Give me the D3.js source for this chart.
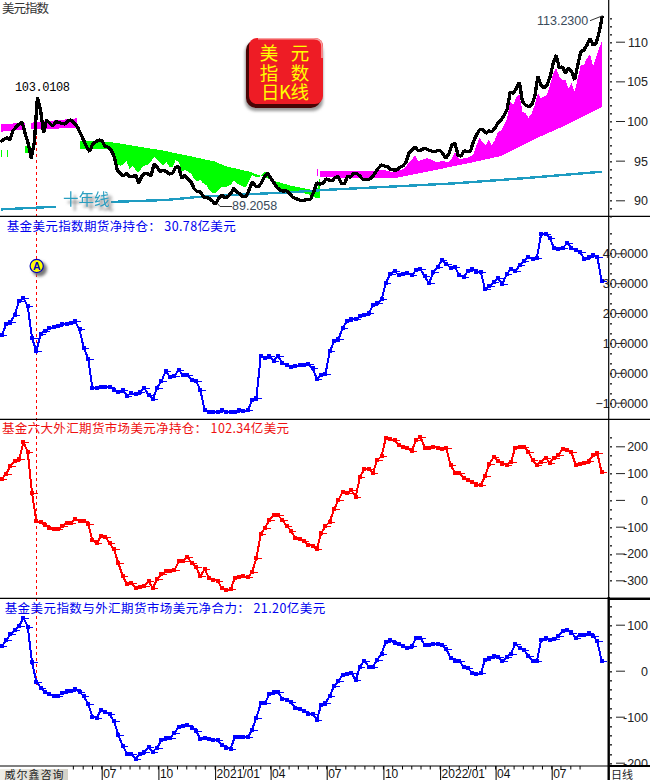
<!DOCTYPE html>
<html><head><meta charset="utf-8">
<script src="https://cdnjs.cloudflare.com/ajax/libs/d3/7.8.5/d3.min.js"></script>
<style>html,body{margin:0;padding:0;background:#fff}svg{display:block}</style>
</head><body><div id="chart"></div>
<script>
// ---------- values ----------
const priceValues=[97.39,97.69,97.89,97.60,98.78,99.21,99.58,99.84,98.45,97.10,95.30,97.39,103.01,
101.39,98.52,100.13,99.71,99.37,99.91,99.79,99.71,99.62,100.04,100.13,99.71,99.28,98.45,97.60,96.76,96.13,97.10,97.39,97.60,97.52,96.85,96.69,96.34,95.50,93.82,93.40,93.06,93.40,92.98,92.98,93.19,92.14,93.06,93.40,93.32,93.06,94.58,94.16,93.61,
93.82,93.61,93.32,93.40,94.16,94.24,92.77,93.19,92.65,92.35,91.51,91.08,91.08,90.45,90.33,90.25,89.91,89.50,90.25,90.67,90.33,90.45,90.88,91.51,91.01,90.79,90.45,90.45,91.39,92.35,91.80,91.72,92.22,93.06,93.40,92.77,92.22,91.64,91.30,91.17,91.21,90.96,90.45,90.25,90.08,89.95,90.04,90.08,90.16,91.08,92.22,92.06,92.14,92.69,
92.56,92.47,92.90,92.98,92.14,92.06,93.06,92.90,93.40,93.40,93.06,92.65,92.65,92.65,92.90,93.48,94.04,94.45,94.33,94.24,93.91,93.82,93.82,94.16,94.33,94.74,95.93,96.34,96.76,96.25,96.34,96.56,96.43,96.25,96.13,96.22,96.34,95.93,95.30,95.84,96.97,97.19,95.71,95.59,96.25,96.13,96.13,97.39,98.23,
98.87,98.99,98.45,98.74,98.65,99.08,99.71,100.13,100.67,101.51,103.62,103.49,104.12,104.88,102.43,102.02,101.80,102.02,103.06,105.59,104.54,104.12,104.54,105.59,107.28,108.32,106.65,106.85,106.02,106.65,106.22,105.17,107.06,108.74,108.95,109.58,110.43,109.58,109.80,111.26,113.23];

const longMaSteps=[26,35,42,48,52,60,70,73,81,84,90,95,103,104,121,129,138,148,152,163,174,185,196];
const longMaValues=[97.48,97.39,96.97,96.56,96.34,95.71,94.87,94.33,93.61,93.19,92.35,91.80,91.21,92.94,92.75,92.85,93.53,94.33,94.64,95.59,97.73,99.62,101.80];

const greenEdge=[96.47,96.47,96.47,96.47,96.47,96.47,96.47,96.47,96.47,96.47,96.47,
95.71,94.58,94.33,94.58,94.99,93.91,94.33,93.82,93.48,94.16,94.41,94.49,94.83,95.50,95.17,
94.67,94.45,94.87,94.24,94.16,95.08,94.87,93.61,93.82,93.61,93.40,92.77,92.35,92.56,92.14,91.93,91.30,90.88,90.88,91.30,91.72,91.64,91.80,91.93,92.56,92.14,91.93,91.72,91.72,92.56,93.19,92.98,92.90,93.19,93.61,93.61,92.98,92.35,91.80,91.55,91.39,91.30,91.13,91.05,91.01,90.96,90.88,90.88,90.79,90.67,90.45,90.25,90.25];
const magentaEdge=[93.69,93.69,93.69,93.69,93.69,93.69,93.69,93.69,93.69,93.69,93.69,93.69,93.69,93.69,93.69,93.69,93.69,93.69,93.69,
93.82,93.82,93.82,93.69,93.61,93.61,93.61,93.82,93.91,94.24,94.74,95.17,95.71,94.87,95.08,95.21,95.30,95.21,94.96,94.79,94.87,94.96,94.87,94.87,95.21,96.13,95.30,95.21,95.30,95.37,95.50,95.84,96.97,
97.82,97.39,96.97,97.60,96.97,97.60,98.65,98.74,99.50,100.34,102.43,102.02,103.06,103.28,101.17,100.97,100.42,100.97,102.02,103.49,102.86,103.06,103.28,104.54,106.02,106.65,105.59,105.17,105.17,104.12,104.75,103.69,105.38,107.06,107.06,107.91,108.41,106.85,108.11,109.17,110.21];

const earlyBandSteps=[[0,8],[8,10],[10,25]];
const earlyBandTop=[[99.58,99.79],[96.85,96.85],[99.79,100.34]];
const earlyBandBottom=[[98.65,98.95],[96.0,96.0],[98.95,99.12]];
const earlyBandKinds=["up","down","up"];

const tenYearSteps=[0,18,19,36,54,65,81,97,105,127,148,170,196];
const tenYearValues=[88.85,89.19,null,89.79,90.04,90.45,90.76,91.08,91.30,91.72,92.14,92.77,93.61];

const fundIndexPosition=[12.5,16.2,17.0,19.4,24.0,25.1,22.2,11.7,7.3,13.0,14.0,14.9,15.3,15.6,16.3,16.3,16.6,17.2,14.5,8.3,4.7,-5.1,-5.0,-4.8,-4.8,-4.8,-5.6,-6.3,-5.8,-7.6,-6.8,-7.2,-6.5,-5.1,-7.4,-8.6,-5.0,-2.8,0.7,-1.5,-1.1,1.0,-0.8,-0.8,-2.5,-2.7,-5.7,-12.6,-13.2,-13.0,-13.2,-12.6,-13.0,-13.2,-13.2,-12.5,-12.7,-12.6,-9.1,-8.3,5.6,5.0,5.5,4.1,5.5,3.4,2.5,1.9,2.3,2.5,2.6,2.9,1.6,-2.1,-0.6,-0.4,
7.2,10.5,11.2,15.1,17.2,17.9,17.9,18.9,19.3,19.9,22.6,23.2,24.6,30.1,33.0,34.0,32.7,33.1,33.3,32.6,34.4,34.7,32.3,29.9,33.6,35.3,37.8,36.4,35.1,35.3,32.8,32.2,34.0,34.7,33.6,33.6,27.9,28.9,30.5,31.7,29.6,33.1,34.7,34.0,36.0,37.3,38.7,38.1,38.5,46.6,46.6,45.1,41.7,41.6,41.8,43.4,41.8,41.0,40.3,38.1,38.9,39.3,38.8,30.78];

const fundFxPosition=[78,98,126,144,151,216,179,25,-79,-84,-95,-103,-110,-110,-97,-88,-87,-73,-79,-77,-91,-150,-162,-135,-138,-162,-185,-236,-284,-314,-311,-329,-324,-320,-304,-329,-295,-278,-267,-265,-262,-229,-229,-213,-236,-250,-285,-258,-291,-299,-301,-330,-336,-334,-291,-286,-285,-288,-270,-217,-128,-103,-76,-57,-57,-76,-97,-115,-143,-145,-155,-167,-172,-184,-124,-98,
-81,-35,-1,31,25,36,11,86,114,114,102,148,164,232,228,222,203,197,192,182,224,236,195,195,198,195,191,195,129,102,102,81,73,67,55,56,89,135,160,145,135,130,143,195,198,198,180,149,130,143,157,139,157,167,191,188,177,130,135,139,144,167,175,102.34];

const fundCombined=[53,66,79,89,97,115,96,18,-24,-37,-46,-50,-55,-55,-48,-45,-45,-40,-46,-56,-72,-101,-102,-85,-89,-95,-110,-140,-163,-180,-180,-192,-181,-176,-166,-176,-167,-151,-146,-146,-135,-122,-121,-117,-124,-130,-149,-146,-149,-150,-151,-161,-168,-170,-144,-145,-145,-145,-128,-102,-71,-71,-51,-47,-47,-61,-63,-69,-80,-84,-88,-94,-94,-107,-74,-71,
-54,-34,-22,-9,-8,-4,-21,9,22,9,9,24,37,63,66,61,59,54,49,53,71,72,55,55,57,57,55,48,27,22,21,9,5,-4,-8,-5,24,27,33,29,21,29,37,59,49,46,32,21,21,67,72,66,68,76,87,88,83,72,78,77,81,76,64,21.2];

const titleMain="美元指数";
const titleIndex="基金美元指数期货净持仓： 30.78亿美元";
const titleFx="基金六大外汇期货市场美元净持仓： 102.34亿美元";
const titleCombined="基金美元指数与外汇期货市场美元净合力： 21.20亿美元";
const ticksPrice=[90,95,100,105,110];
const ticksIndex=[-10,0,10,20,30,40];
const ticksFx=[-300,-200,-100,0,100,200];
const ticksCombined=[-200,-100,0,100];
const monthLabels=[["2020-07-01","07"],["2020-10-01","10"],["2021-01-01","2021/01"],["2021-04-01","04"],["2021-07-01","07"],["2021-10-01","10"],["2022-01-01","2022/01"],["2022-04-01","04"],["2022-07-01","07"]];
const badgeRows=[["美","元"],["指","数"],["日K线",""]];

// ---------- layout ----------
const W=650,H=780,CN='"Noto Sans CJK SC","Noto Sans",sans-serif',LAT='"Liberation Sans",Arial,sans-serif';
const svg=d3.select("#chart").append("svg").attr("width",W).attr("height",H).attr("viewBox",[0,0,W,H]);
svg.append("rect").attr("width",W).attr("height",H).attr("fill","#fff");
const defs=svg.append("defs");
const blur=defs.append("filter").attr("id","soft").attr("x","-30%").attr("y","-30%").attr("width","160%").attr("height","160%");
blur.append("feGaussianBlur").attr("stdDeviation",1.8);
const textShadow=defs.append("filter").attr("id","textShadow").attr("x","-20%").attr("y","-30%").attr("width","150%").attr("height","180%");
textShadow.append("feDropShadow").attr("dx",4).attr("dy",4).attr("stdDeviation",1.8).attr("flood-color","#777");
const grad=defs.append("linearGradient").attr("id","tag");
grad.append("stop").attr("offset",0).attr("stop-color","#f0efe8");
grad.append("stop").attr("offset",1).attr("stop-color","#d4d2c8");

const x=d3.scaleUtc().domain([Date.UTC(2020,6,1),Date.UTC(2022,6,1)]).range([101.7,551.7]);
const yPrice=d3.scaleLinear().domain([90,110]).range([200.3,41.7]);
const yIndex=d3.scaleLinear().domain([-10,40]).range([402.7,253.3]);
const yFx=d3.scaleLinear().domain([-300,200]).range([580.3,446.3]);
const yCombined=d3.scaleLinear().domain([-200,100]).range([762.7,624.7]);

const DAY=864e5, priceStart=Date.UTC(2020,0,19), weekStart=Date.UTC(2020,0,21);
const px=i=>x(new Date(priceStart+i*4.98*DAY));
const wx=j=>x(new Date(weekStart+j*7*DAY));

// ---------- top panel bands ----------
const poly=d3.line().x(d=>px(d[0])).y(d=>yPrice(d[1]));
const colors={up:"#ff00ff",down:"#00ff00"};
const gBand=svg.append("g").attr("shape-rendering","crispEdges");
earlyBandSteps.forEach((s,k)=>{
  const pts=[[s[0],earlyBandTop[k][0]],[s[1],earlyBandTop[k][1]],[s[1],earlyBandBottom[k][1]],[s[0],earlyBandBottom[k][0]]];
  gBand.append("path").attr("d",poly(pts)+"Z").attr("fill",colors[earlyBandKinds[k]]);
});
function mainBand(edge,first,last,color){
  const e=edge.map((v,k)=>[first+k,v]);
  const m=longMaSteps.map((s,k)=>[s,longMaValues[k]]).filter(d=>d[0]>=first&&d[0]<=last).reverse();
  gBand.append("path").attr("d",poly(e.concat(m))+"Z").attr("fill",color);
}
mainBand(greenEdge,26,104,colors.down);
mainBand(magentaEdge,104,196,colors.up);
// small stray marks
[[0,96.3,95.4,colors.down],[2,96.3,95.4,colors.down],[103,93.95,93.05,colors.up]].forEach(d=>{
  gBand.append("line").attr("x1",px(d[0])+.5).attr("x2",px(d[0])+.5).attr("y1",yPrice(d[1])).attr("y2",yPrice(d[2])).attr("stroke",d[3]).attr("stroke-width",1.2);
});

// ---------- event line ----------
svg.append("line").attr("x1",36.5).attr("x2",36.5).attr("y1",130).attr("y2",686).attr("stroke","#ff0000").attr("stroke-width",1).attr("stroke-dasharray","3,3").attr("shape-rendering","crispEdges");

// ---------- ten-year line & price ----------
const tenData=tenYearSteps.map((s,k)=>({s,v:tenYearValues[k]}));
svg.append("path").attr("fill","none").attr("stroke","#1e9cc2").attr("stroke-width",2.4).attr("shape-rendering","crispEdges")
 .attr("d",d3.line().defined(d=>d.v!==null).x(d=>px(d.s)).y(d=>yPrice(d.v))(tenData));
svg.append("path").attr("fill","none").attr("stroke","#000").attr("stroke-width",3.3).attr("stroke-linejoin","bevel").attr("shape-rendering","crispEdges")
 .attr("d",d3.line().x((d,i)=>px(i)).y(d=>yPrice(d))(priceValues));

// ---------- fund position panels ----------
function series(values,y,color){
  const g=svg.append("g").attr("shape-rendering","crispEdges");
  g.append("path").attr("fill","none").attr("stroke",color).attr("stroke-width",2)
   .attr("d",d3.line().x((d,i)=>wx(i)).y(d=>y(d))(values));
  g.selectAll("rect").data(values).join("rect").attr("x",(d,i)=>wx(i)-2).attr("y",d=>y(d)-2).attr("width",4).attr("height",4).attr("fill",color);
  g.selectAll("line").data(values).join("line").attr("x1",(d,i)=>wx(i)).attr("x2",(d,i)=>wx(i)+5.5).attr("y1",d=>y(d)+.5).attr("y2",d=>y(d)+.5).attr("stroke",color).attr("stroke-width",1);
}
series(fundIndexPosition,yIndex,"#0000ff");
series(fundFxPosition,yFx,"#ff0000");
series(fundCombined,yCombined,"#0000ff");

// ---------- panel lines ----------
[216.3,419.3,598.3].forEach(v=>svg.append("line").attr("x1",0).attr("x2",W).attr("y1",v).attr("y2",v).attr("stroke","#000").attr("stroke-width",1.2));
svg.append("line").attr("x1",0).attr("x2",W).attr("y1",766).attr("y2",766).attr("stroke","#000").attr("stroke-width",1);

// ---------- right axes ----------
function rightAxis(y,ticks,fmt,dotStep,lo,hi){
  const g=svg.append("g").attr("transform",`translate(616,0)`);
  g.call(d3.axisRight(y).tickValues(ticks).tickSize(9).tickFormat(fmt));
  g.select(".domain").remove();
  g.selectAll(".tick line").attr("stroke","#222");
  g.selectAll(".tick text").attr("x",32).attr("dy","0.35em").attr("text-anchor","end").attr("font-family",LAT).attr("font-size",12.5).attr("fill","#222");
  const dots=d3.range(Math.ceil(lo/dotStep),Math.floor(hi/dotStep)+1).map(k=>k*dotStep);
  svg.append("g").selectAll("rect").data(dots).join("rect").attr("x",610.2).attr("y",d=>Math.round(y(d))).attr("width",1.6).attr("height",1.6).attr("fill","#111");
}
rightAxis(yPrice,ticksPrice,d=>d,1,88,113);
rightAxis(yIndex,ticksIndex,d=>d3.format(".4f")(d),10/3,-13,48);
rightAxis(yFx,ticksFx,d=>d,100/3,-330,240);
rightAxis(yCombined,ticksCombined,d=>d,20,-200,140);

// ---------- bottom axis ----------
const minorDates=d3.range(0,64).map(k=>{const m=Math.floor(k/2);return new Date(Date.UTC(2020,m,k%2?16:1));}).filter(d=>x(d)>68&&x(d)<W);
svg.append("g").selectAll("line").data(minorDates).join("line").attr("x1",d=>x(d)).attr("x2",d=>x(d)).attr("y1",766).attr("y2",769.5).attr("stroke","#000");
const gm=svg.append("g").attr("transform","translate(0,766)");
gm.call(d3.axisBottom(x).tickValues(monthLabels.map(d=>new Date(d[0]+"T00:00:00Z"))).tickSize(14).tickFormat((d,i)=>monthLabels[i][1]));
gm.select(".domain").remove();
gm.selectAll(".tick line").attr("stroke","#000");
gm.selectAll(".tick text").attr("x",1).attr("y",8).attr("dy","0.35em").attr("text-anchor","start").attr("font-family",LAT).attr("font-size",12).attr("fill","#111");

// cover under the active panel's axis, then its heavy frame
svg.append("rect").attr("x",609).attr("y",767).attr("width",41).attr("height",13).attr("fill","#fff");
svg.append("line").attr("x1",608.7).attr("x2",608.7).attr("y1",0).attr("y2",598).attr("stroke","#000").attr("stroke-width",1.2);
svg.append("line").attr("x1",608.7).attr("x2",608.7).attr("y1",597).attr("y2",780).attr("stroke","#000").attr("stroke-width",2.4);
svg.append("line").attr("x1",608).attr("x2",W).attr("y1",598.8).attr("y2",598.8).attr("stroke","#000").attr("stroke-width",2.2);
svg.append("line").attr("x1",608).attr("x2",W).attr("y1",766).attr("y2",766).attr("stroke","#000").attr("stroke-width",2.2);
svg.append("text").attr("x",611).attr("y",778.5).attr("font-family",CN).attr("font-size",11).attr("fill","#222").text("日线");

// tag bottom-left
svg.append("rect").attr("x",0).attr("y",769).attr("width",68).attr("height",11).attr("fill","url(#tag)");
svg.append("text").attr("x",4.5).attr("y",778.5).attr("font-family",CN).attr("font-size",11).attr("fill","#222").attr("textLength",59).text("威尔鑫咨询");

// ---------- titles ----------
function title(t,xx,yy,len,color){
  svg.append("text").attr("x",xx).attr("y",yy).attr("font-family",CN).attr("font-size",12.5).attr("fill",color).attr("textLength",len).attr("lengthAdjust","spacing").text(t);
}
title(titleMain,2,13,47,"#333");
title(titleIndex,6.7,230.5,229,"#0000ee");
title(titleFx,2,432.5,287,"#ee1111");
title(titleCombined,4.7,612.5,320.5,"#0000ee");

// ---------- annotations ----------
const mono='"Liberation Mono",monospace';
svg.append("text").attr("x",15).attr("y",91).attr("font-family",mono).attr("font-size",12).attr("fill","#000").attr("textLength",55).text("103.0108");
svg.append("text").attr("x",232).attr("y",210).attr("font-family",LAT).attr("font-size",12.5).attr("fill","#3a4a5a").text("89.2058");
svg.append("text").attr("x",537).attr("y",25).attr("font-family",LAT).attr("font-size",12.5).attr("fill","#3a4a5a").text("113.2300");
svg.append("path").attr("fill","none").attr("stroke","#333").attr("d",`M217,203L220,206.5H232`);
svg.append("path").attr("fill","none").attr("stroke","#333").attr("d",`M590,20.7L602.7,15.7`);

// ten-year label with soft shadow
svg.append("text").attr("x",63).attr("y",205).attr("font-family",CN).attr("font-size",15.5).attr("fill","#2a9fc0").attr("filter","url(#textShadow)").text("十年线");

// A marker
svg.append("circle").attr("cx",39.5).attr("cy",269).attr("r",7.5).attr("fill","#777").attr("filter","url(#soft)");
svg.append("circle").attr("cx",36.7).attr("cy",266).attr("r",6.6).attr("fill","#ffff00").attr("stroke","#0000c0").attr("stroke-width",1.2);
svg.append("text").attr("x",36.7).attr("y",269.8).attr("text-anchor","middle").attr("font-family",LAT).attr("font-weight",700).attr("font-size",10.5).attr("fill","#0000c0").text("A");

// badge
const bx=246,by=38;
svg.append("rect").attr("x",bx-1).attr("y",by+4).attr("width",78).attr("height",69).attr("rx",10).attr("fill","#999").attr("filter","url(#soft)");
svg.append("rect").attr("x",bx).attr("y",by+2).attr("width",75).attr("height",68).attr("rx",10).attr("fill","#4a0505");
svg.append("rect").attr("x",bx+3).attr("y",by).attr("width",74).attr("height",66).attr("rx",8).attr("fill","#ee1c25");
svg.append("path").attr("fill","none").attr("stroke","#f7a0a0").attr("stroke-width",1.6).attr("d",`M${bx+12},${by+.8}H${bx+68}Q${bx+76},${by+.8} ${bx+76},${by+9}V${by+20}`);
const badgeY=[59.5,79.5,98.5];
badgeRows.forEach((r,k)=>{
  if(r[1]){
    [[269,r[0]],[300,r[1]]].forEach(c=>svg.append("text").attr("x",c[0]).attr("y",badgeY[k]).attr("text-anchor","middle").attr("font-family",CN).attr("font-size",18.5).attr("fill","#ffff00").text(c[1]));
  } else {
    svg.append("text").attr("x",261).attr("y",badgeY[k]).attr("font-family",CN).attr("font-size",18.5).attr("fill","#ffff00").attr("textLength",48).text(r[0]);
  }
});
</script></body></html>
